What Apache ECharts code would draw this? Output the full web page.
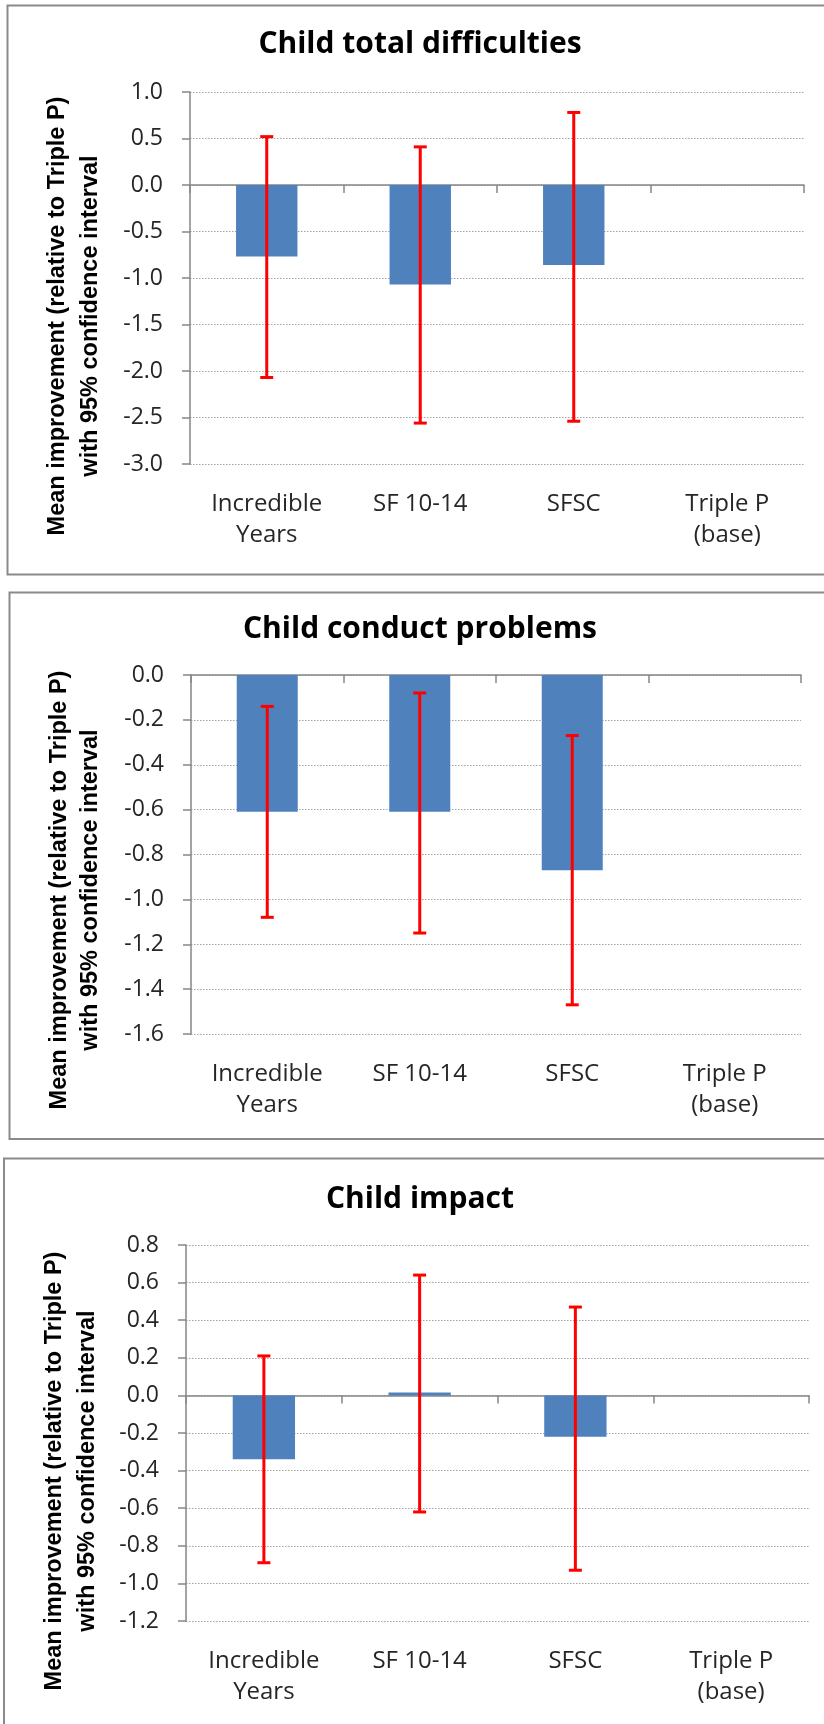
<!DOCTYPE html>
<html>
<head>
<meta charset="utf-8">
<script src="https://cdn.jsdelivr.net/npm/echarts/dist/echarts.min.js"></script>
<style>
html,body{margin:0;padding:0;background:#fff;}
#chart{width:824px;height:1724px;}
</style>
</head>
<body>
<div id="chart"></div>
<script>
// ---------- DATA ----------
const categories = ['Incredible\nYears', 'SF 10-14', 'SFSC', 'Triple P\n(base)'];

const titles = ['Child total difficulties', 'Child conduct problems', 'Child impact'];
const yNameLine1 = 'Mean improvement (relative to Triple P)';
const yNameLine2 = 'with 95% confidence interval';

const totalMean = [-0.77, -1.07, -0.86, 0];
const totalLow  = [-2.07, -2.56, -2.54, null];
const totalHigh = [0.52, 0.41, 0.78, null];

const conductMean = [-0.61, -0.61, -0.87, 0];
const conductLow  = [-1.08, -1.15, -1.47, null];
const conductHigh = [-0.14, -0.08, -0.27, null];

const impactMean = [-0.34, 0.015, -0.22, 0];
const impactLow  = [-0.89, -0.62, -0.93, null];
const impactHigh = [0.21, 0.64, 0.47, null];

const yMin = [-3, -1.6, -1.2];
const yMax = [1, 0, 0.8];
const yStep = [0.5, 0.2, 0.2];

// ---------- LAYOUT ----------
const grids = [
  {left: 190, top: 92, width: 614, height: 372},
  {left: 191, top: 675, width: 610, height: 359},
  {left: 186, top: 1245, width: 623, height: 376}
];
const titlePos = [[420, 44], [420, 629], [420, 1199]];
const yNamePos = [[58, 91, 316], [60, 91, 890], [55, 88, 1471]];
const panels = [
  {x: 7.5, y: 5.5, w: 830, h: 569},
  {x: 9.5, y: 592.5, w: 830, h: 546.5},
  {x: 4, y: 1158.5, w: 830, h: 600}
];

const means = [totalMean, conductMean, impactMean];
const lows = [totalLow, conductLow, impactLow];
const highs = [totalHigh, conductHigh, impactHigh];

const axisGrey = '#868686';
const textCol = '#262626';
const FONT = '"Open Sans", "Noto Sans", sans-serif';

function errData(lo, hi) {
  const out = [];
  for (let i = 0; i < lo.length; i++) {
    if (lo[i] != null && hi[i] != null) out.push([i, lo[i], hi[i]]);
  }
  return out;
}

function renderErr(params, api) {
  const i = api.value(0);
  const pLo = api.coord([i, api.value(1)]);
  const pHi = api.coord([i, api.value(2)]);
  const w = 6.5;
  const st = {stroke: '#ff0000', lineWidth: 3};
  return {
    type: 'group',
    children: [
      {type: 'line', shape: {x1: pLo[0], y1: pLo[1], x2: pHi[0], y2: pHi[1]}, style: st},
      {type: 'line', shape: {x1: pHi[0] - w, y1: pHi[1], x2: pHi[0] + w, y2: pHi[1]}, style: st},
      {type: 'line', shape: {x1: pLo[0] - w, y1: pLo[1], x2: pLo[0] + w, y2: pLo[1]}, style: st}
    ]
  };
}

const xAxis = [], yAxis = [], series = [], graphics = [];

for (let g = 0; g < 3; g++) {
  // label axis at bottom
  xAxis.push({
    type: 'category', gridIndex: g, data: categories, position: 'bottom',
    axisLine: {show: false, onZero: false}, axisTick: {show: false},
    axisLabel: {
      show: true, interval: 0, margin: 25, lineHeight: 31,
      fontFamily: FONT, fontSize: 24, color: textCol, verticalAlign: 'top'
    },
    splitLine: {show: false}
  });
  // zero line axis
  xAxis.push({
    type: 'category', gridIndex: g, data: categories, position: 'top',
    axisLine: {show: true, onZero: true, lineStyle: {color: axisGrey, width: 1.5}},
    axisTick: {show: true, inside: true, length: 8, lineStyle: {color: axisGrey, width: 1.5}},
    axisLabel: {show: false}, splitLine: {show: false}
  });
  yAxis.push({
    type: 'value', gridIndex: g, min: yMin[g], max: yMax[g], interval: yStep[g],
    axisLine: {show: true, lineStyle: {color: axisGrey, width: 1.5}},
    axisTick: {show: true, length: 8, lineStyle: {color: axisGrey, width: 1.5}},
    axisLabel: {
      margin: 27, fontFamily: FONT, fontSize: 23, color: textCol,
      formatter: v => (Math.abs(v) < 1e-9 ? 0 : v).toFixed(1)
    },
    splitLine: {show: true, lineStyle: {color: '#a3a3a3', width: 1, type: [1.5, 1.5]}}
  });
  series.push({
    type: 'bar', xAxisIndex: g * 2, yAxisIndex: g, data: means[g],
    barWidth: '40%',
    itemStyle: {color: '#4f81bd'},
    z: 2
  });
  series.push({
    type: 'custom', xAxisIndex: g * 2, yAxisIndex: g,
    data: errData(lows[g], highs[g]),
    encode: {x: 0, y: [1, 2]},
    renderItem: renderErr, z: 5
  });

  // panel border
  graphics.push({
    type: 'rect', shape: {x: panels[g].x, y: panels[g].y, width: panels[g].w, height: panels[g].h},
    style: {fill: 'none', stroke: '#8a8a8a', lineWidth: 2}, silent: true, z: -1
  });
  // title
  graphics.push({
    type: 'text', x: titlePos[g][0], y: titlePos[g][1],
    style: {
      text: titles[g], fontFamily: FONT, fontSize: 30, fontWeight: 'bold',
      fill: '#000', align: 'center', verticalAlign: 'middle'
    }
  });
  // y-axis name (two lines, rotated)
  graphics.push({
    type: 'text', x: yNamePos[g][0], y: yNamePos[g][2], rotation: Math.PI / 2,
    style: {
      text: yNameLine1, fontFamily: '"Liberation Sans", Arial, sans-serif', fontSize: 23.5,
      fontWeight: 'bold', fill: '#000', align: 'center', verticalAlign: 'middle'
    }
  });
  graphics.push({
    type: 'text', x: yNamePos[g][1], y: yNamePos[g][2], rotation: Math.PI / 2,
    style: {
      text: yNameLine2, fontFamily: '"Liberation Sans", Arial, sans-serif', fontSize: 23.5,
      fontWeight: 'bold', fill: '#000', align: 'center', verticalAlign: 'middle'
    }
  });
}

const chart = echarts.init(document.getElementById('chart'), null, {renderer: 'canvas'});
chart.setOption({
  animation: false,
  backgroundColor: '#fff',
  grid: grids.map(g => Object.assign({containLabel: false}, g)),
  xAxis: xAxis,
  yAxis: yAxis,
  series: series,
  graphic: {elements: graphics}
});
</script>
</body>
</html>
